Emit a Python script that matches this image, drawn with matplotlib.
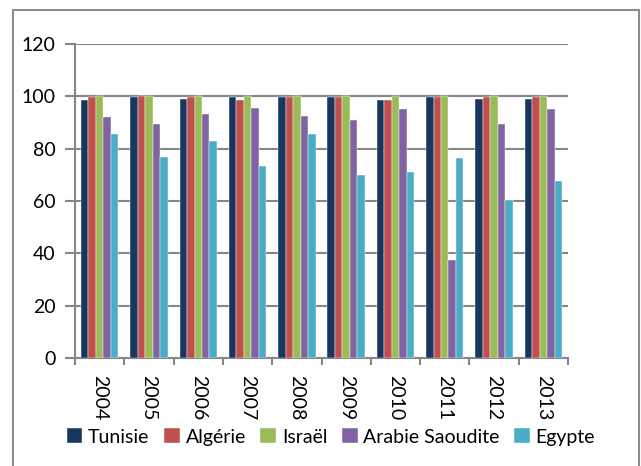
import numpy as np
import matplotlib.pyplot as plt
from matplotlib.patches import Rectangle

plt.rcParams['font.family'] = ['Lato', 'DejaVu Sans']

years = ['2004', '2005', '2006', '2007', '2008', '2009', '2010', '2011', '2012', '2013']
countries = ['Tunisie', 'Algérie', 'Israël', 'Arabie Saoudite', 'Egypte']
colors = ['#17375E', '#C0504D', '#9BBB59', '#8064A2', '#4BACC6']

tunisie = [98.5, 99.6, 99.1, 99.6, 99.9, 99.9, 98.6, 99.8, 99.1, 99.1]
algerie = [99.8, 100, 99.9, 98.7, 99.9, 99.9, 98.7, 99.9, 99.9, 99.9]
israel = [100, 100, 100, 100, 100, 100, 100, 100, 100, 100]
arabie = [92.1, 89.6, 93.2, 95.7, 92.5, 90.8, 95.0, 37.6, 89.3, 95.3]
egypte = [85.6, 76.9, 83.1, 73.5, 85.5, 69.9, 71.2, 76.6, 60.5, 67.6]
series = [tunisie, algerie, israel, arabie, egypte]

fig = plt.figure(figsize=(6.41, 4.66), dpi=100)
ax = fig.add_axes([75 / 641, 1 - 358 / 466, (568 - 75) / 641, (358 - 44) / 466])

# outer chart frame
fig.patches.append(Rectangle((13 / 641, -0.05), (639 - 13) / 641, 1.05 - 10 / 466,
                             transform=fig.transFigure, fill=False,
                             edgecolor='#8C8C8C', linewidth=1.5))

x = np.arange(len(years))
group_w = 0.76
bar_w = group_w / len(series)
for i, (name, vals) in enumerate(zip(countries, series)):
    pos = x - group_w / 2 + bar_w * (i + 0.5)
    ax.bar(pos, vals, width=bar_w, color=colors[i], label=name,
           edgecolor='white', linewidth=0.3, zorder=3)

ax.set_xlim(-0.5, len(years) - 0.5)
ax.set_ylim(0, 120)
ax.set_yticks(range(0, 121, 20))
ax.yaxis.grid(True, color='#868686', linewidth=1.5, zorder=0)
ax.set_axisbelow(True)

ax.set_xticks(x)
ax.set_xticklabels(years, rotation=-90, fontsize=14)
ax.set_xticks(np.arange(-0.5, len(years)), minor=True)
ax.tick_params(axis='x', which='major', length=0, pad=12)
ax.tick_params(axis='x', which='minor', length=5, width=1.5, color='#868686')
ax.tick_params(axis='y', length=7, width=1.5, color='#868686', labelsize=14, pad=7)

for side in ['top', 'right']:
    ax.spines[side].set_visible(False)
for side in ['left', 'bottom']:
    ax.spines[side].set_color('#868686')
    ax.spines[side].set_linewidth(1.5)

fig.legend(loc='center', bbox_to_anchor=(331 / 641, 1 - 437 / 466), ncol=5,
           frameon=False, fontsize=14, handlelength=0.8, handleheight=0.8,
           handletextpad=0.3, columnspacing=0.75)

fig.savefig('out.png', dpi=100)
